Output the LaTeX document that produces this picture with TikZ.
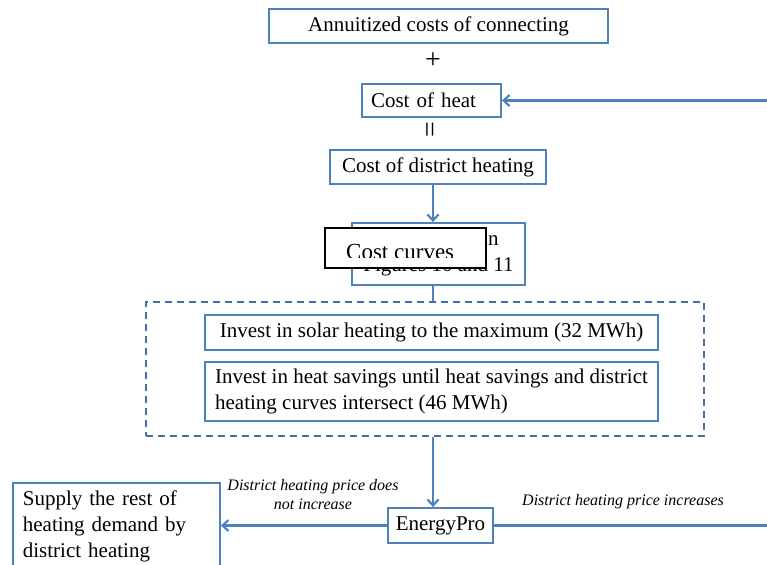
\documentclass[tikz,border=0pt]{standalone}
\usepackage{fontspec}
\setmainfont{Liberation Serif}
\usetikzlibrary{arrows.meta}
\definecolor{boxblue}{RGB}{79,129,189}
\definecolor{dashblue}{RGB}{65,110,165}

\begin{document}
\begin{tikzpicture}[x=1pt,y=-1pt,
    box/.style={draw=boxblue,line width=1.8pt,fill=white,inner sep=0pt,font=\fontsize{21}{25.5}\selectfont},
    arr/.style={draw=boxblue,line width=2.2pt,-{Straight Barb[length=6pt,width=11pt]}},
    link/.style={draw=boxblue,line width=2.2pt},
    sign/.style={font=\fontsize{28}{28}\selectfont},
    lbl/.style={font=\fontsize{16}{19}\selectfont\itshape,align=center}]
    \useasboundingbox (0,0) rectangle (767,564);
    \coordinate (axis) at (433,0);
    \node[box,minimum width=339pt,minimum height=34pt] at (438.5,26)(annu){Annuitized costs of connecting};
    \node[sign] at (433,61)(plus){+};
    \node[box,text width=121pt,inner xsep=9pt,minimum height=33pt,align=left] at (431.5,100.5)(heat){Cost of heat};
    \node[sign,rotate=90] at (433,130)(eq){=};
    \node[box,minimum width=216pt,minimum height=34pt] at (438,167)(dh){Cost of district heating};
    \node[box,minimum width=173pt,minimum height=62pt,align=center] at (438.5,254)(curves){Cost curves in\\Figures 10 and 11};
    \node[draw=black,fill=white,line width=1.2pt,minimum width=161pt,minimum height=40pt] at (405.5,248)(cover){};
    \begin{scope}
        \clip (326,229) rectangle (485,257);
        \node[anchor=base west,inner sep=0pt,font=\fontsize{23}{23}\selectfont] at (346,259)(covertext){Cost curves};
    \end{scope}

    \node[draw=dashblue,line width=2pt,dash pattern=on 7pt off 5pt,minimum width=558pt,minimum height=134pt] at (425,369)(invest){};
    \node[box,minimum width=453pt,minimum height=35pt,align=left] at (431.5,332.5)(solar){Invest in solar heating to the maximum (32 MWh)};
    \node[box,minimum width=453pt,minimum height=59pt,align=left] at (431.5,391.5)(savings){Invest in heat savings until heat savings and district\\heating curves intersect (46 MWh)};

    \node[box,minimum width=105pt,minimum height=35pt] at (440.5,525.5)(epro){EnergyPro};
    \node[box,anchor=north west,text width=187pt,inner xsep=10pt,inner ysep=8pt,align=left,font=\fontsize{21}{26}\selectfont] at (12,482)(supply){Supply the rest of\\heating demand by\\district heating};
    \node[lbl] at (313,495)(nolbl){District heating price does\\not increase};
    \node[lbl] at (623,502)(uplbl){District heating price increases};

    \coordinate (loop) at (775,525.5);

    \draw[arr](dh.south -| axis) -- (curves.north -| axis);
    \draw[link](curves.south -| axis) -- (invest.north -| axis);
    \draw[arr](invest.south -| axis) -- (epro.north -| axis);
    \draw[arr](epro.west) -- (epro.west -| supply.east);
    \draw[arr](epro.east) -- (loop) |- (heat.east);
\end{tikzpicture}
\end{document}
